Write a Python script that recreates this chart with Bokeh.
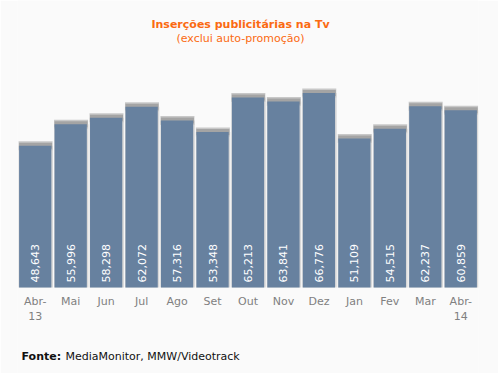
import math
from bokeh.plotting import figure
from bokeh.models import ColumnDataSource, Label, Range1d, FactorRange
from bokeh.transform import dodge
from bokeh.core.properties import value
from bokeh.embed import file_html
from bokeh.resources import INLINE

months = ["Abr-\n13", "Mai", "Jun", "Jul", "Ago", "Set", "Out", "Nov", "Dez", "Jan", "Fev", "Mar", "Abr-\n14"]
insercoes = [48.643, 55.996, 58.298, 62.072, 57.316, 53.348, 65.213, 63.841, 66.776, 51.109, 54.515, 62.237, 60.859]
value_labels = ["48,643", "55,996", "58,298", "62,072", "57,316", "53,348", "65,213", "63,841", "66,776", "51,109", "54,515", "62,237", "60,859"]

title_text = "Inserções publicitárias na Tv"
subtitle_text = "(exclui auto-promoção)"
source_bold = "Fonte:"
source_text = "MediaMonitor, MMW/Videotrack"

W, H = 498, 373
BG = "#FAFAFA"
FONT = "DejaVu Sans"
ORANGE = "#FA6A12"

src = ColumnDataSource(dict(x=months, top=insercoes, lab=value_labels, zero=[0] * len(months)))

# the frame fills the whole height; y = 0 sits 86 px above the bottom edge
p = figure(width=W, height=H, output_backend="svg", toolbar_location=None,
           x_range=FactorRange(*months, range_padding=0), y_range=Range1d(-29.5, 98.5),
           x_axis_type=None, y_axis_type=None,
           min_border_left=17, min_border_right=20, min_border_top=0, min_border_bottom=0)
p.background_fill_color = BG
p.border_fill_color = BG
p.outline_line_color = None
p.grid.visible = False

# shadows
p.vbar(x=dodge("x", 0.015, range=p.x_range), top="top", width=0.97, source=src,
       fill_color="#D8D8D8", line_color=None)
p.rect(x=dodge("x", 0.01, range=p.x_range), y="top", width=34, height=9, width_units="screen", height_units="screen",
       source=src, fill_color="#C8C8C8", line_color=None)
p.rect(x=dodge("x", 0.01, range=p.x_range), y="top", width=33, height=6, width_units="screen", height_units="screen",
       source=src, fill_color="#A4A4A4", line_color=None)
# bars
p.vbar(x="x", top="top", width=0.91, source=src, fill_color="#67819F", line_color=None)

# value labels inside bars
p.text(x="x", y="zero", text="lab", source=src, angle=math.pi / 2, text_align="left", text_baseline="middle",
       y_offset=-5, text_color="white", text_font=value(FONT), text_font_size="11px")

# category labels (x axis)
p.text(x="x", y="zero", text="x", source=src, text_align="center", text_baseline="top",
       y_offset=7, text_color="#808080", text_font=value(FONT), text_font_size="11px", text_line_height=1.2)

# annotations, positioned relative to the plot frame (bottom-left origin)
p.add_layout(Label(x=223, y=349, x_units="screen", y_units="screen", text=title_text, text_align="center",
                   text_baseline="middle", text_font=FONT, text_font_size="11px", text_font_style="bold",
                   text_color=ORANGE))
p.add_layout(Label(x=223, y=335, x_units="screen", y_units="screen", text=subtitle_text, text_align="center",
                   text_baseline="middle", text_font=FONT, text_font_size="11px", text_color=ORANGE))
p.add_layout(Label(x=4, y=17, x_units="screen", y_units="screen", text=source_bold, text_align="left",
                   text_baseline="middle", text_font=FONT, text_font_size="11px", text_font_style="bold",
                   text_color="#111111"))
p.add_layout(Label(x=48, y=17, x_units="screen", y_units="screen", text=source_text, text_align="left",
                   text_baseline="middle", text_font=FONT, text_font_size="11px", text_color="#111111"))

open("out.html", "w").write(file_html(p, INLINE))
